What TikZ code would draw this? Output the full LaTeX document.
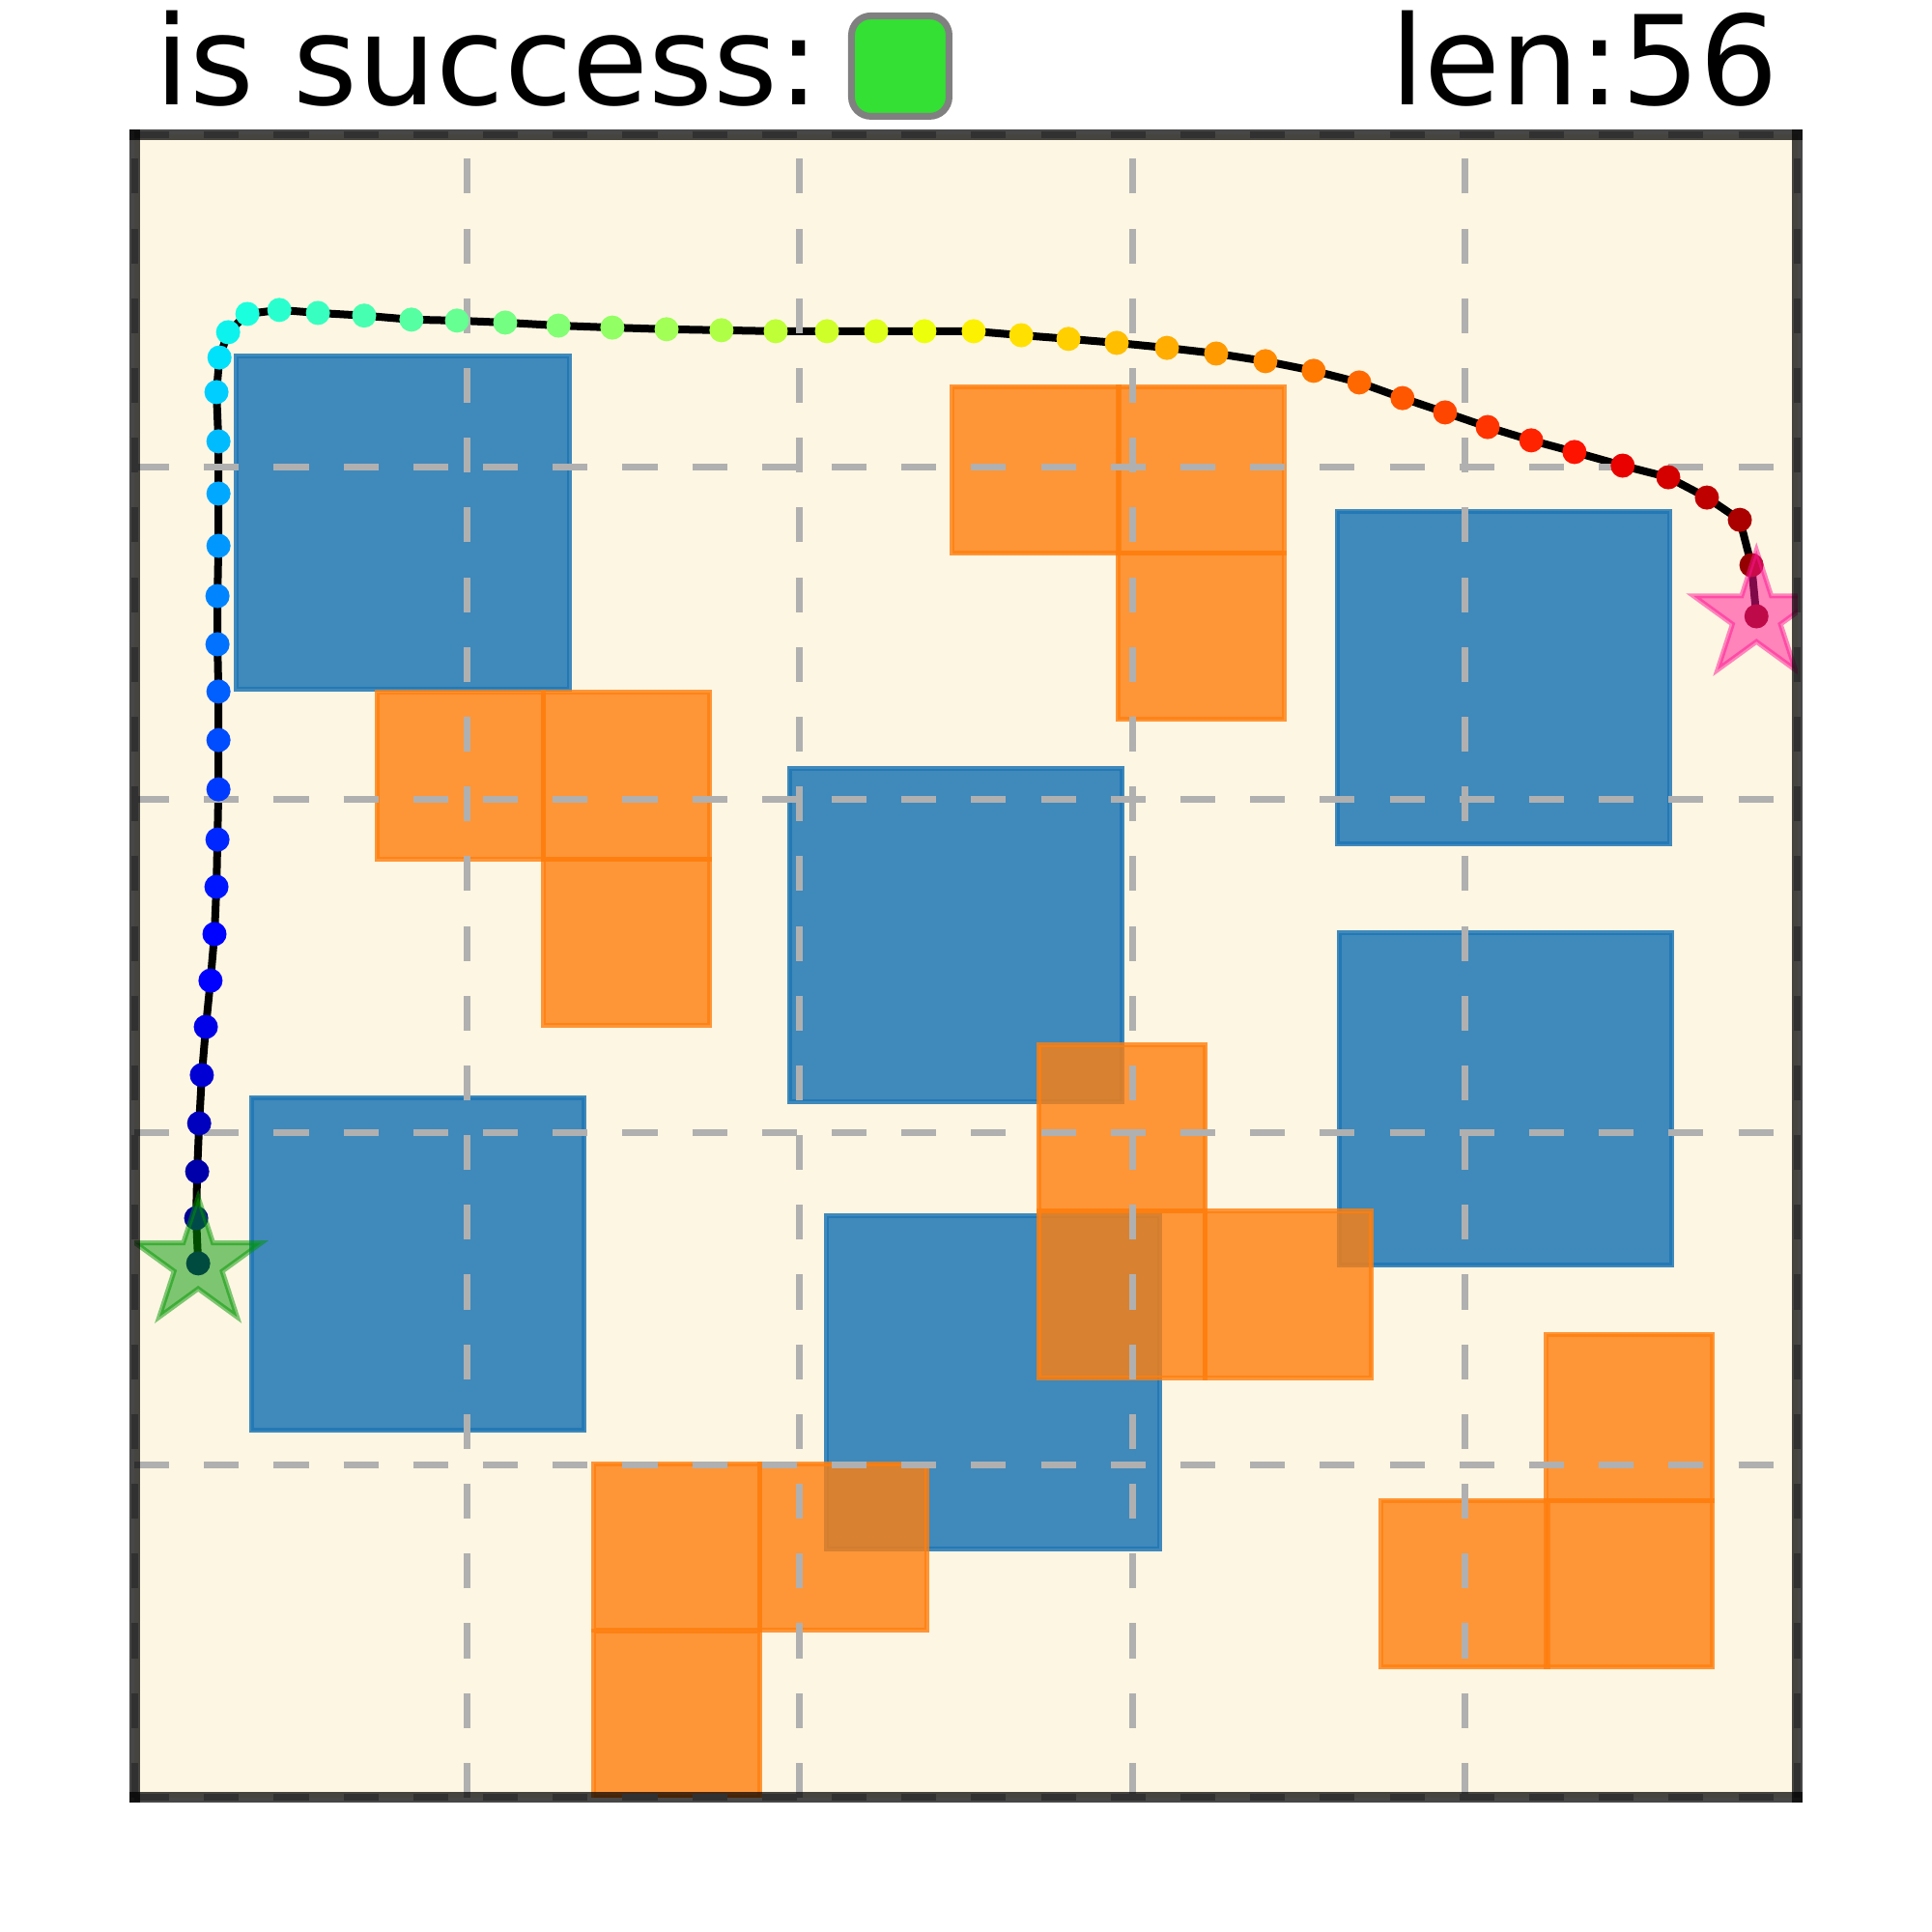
\documentclass[tikz,border=0pt]{standalone}
\usepackage{fontspec}
\setmainfont{DejaVu Sans}
\usetikzlibrary{positioning, shapes.geometric}
\definecolor{cream}{HTML}{FDF6E3}
\definecolor{wallblue}{HTML}{1F77B4}
\definecolor{pieceorange}{HTML}{FF7F0E}
\definecolor{gridgray}{HTML}{B0B0B0}
\definecolor{flaggreen}{HTML}{33E033}
\definecolor{startgreen}{RGB}{0,150,0}
\definecolor{goalpink}{HTML}{FF1493}
\tikzset{
x=3.444cm, y=3.444cm, % one grid cell
wall/.style={draw=wallblue, fill=wallblue, opacity=0.85, line width=0.05cm}, % square obstacles
piece/.style={draw=pieceorange, fill=pieceorange, opacity=0.8, line width=0.05cm}, % cells of the L pieces
gridline/.style={gridgray, line width=0.07cm, dash pattern=on 0.361cm off 0.361cm},
trajline/.style={black, line width=0.08cm, line join=round},
waypoint/.style={circle, inner sep=0pt, minimum size=0.25cm},
marker/.style={star, star points=5, star point ratio=2.618, inner sep=0pt, minimum size=1.37cm, line width=0.05cm, opacity=0.5},
spine/.style={black, opacity=0.72, line width=0.11cm, line cap=rect},
titletext/.style={font=\fontsize{36.5}{40}\selectfont, inner sep=0pt},
flagbox/.style={draw=gray, fill=flaggreen, line width=0.07cm, rounded corners=0.2cm, minimum width=1.01cm, minimum height=1.04cm, inner sep=0pt},
}

\begin{document}
\begin{tikzpicture}
\useasboundingbox (-0.4037,-0.4037) rectangle (5.4037,5.4037);
\fill[cream] (0,0) rectangle (5,5);

% obstacles
\begin{scope}
\clip (0,0) rectangle (5,5);
\foreach \x/\y in {0.307/3.333, 1.970/2.093, 3.615/2.867, 3.622/1.600, 0.352/1.104, 2.081/0.748}
  \draw[wall] (\x,\y) rectangle ++(1,1);
\foreach \x/\y in {2.459/3.741, 2.956/3.741, 2.956/3.241,
                   0.730/2.822, 1.230/2.822, 1.230/2.322,
                   2.719/1.763, 2.719/1.263, 3.219/1.263,
                   1.381/0.504, 1.881/0.504, 1.381/0.000,
                   4.244/0.893, 3.748/0.393, 4.244/0.393}
  \draw[piece] (\x,\y) rectangle ++(0.5,0.5);
\end{scope}

% path
\foreach \px/\py [count=\i] in {0.192/1.606, 0.186/1.742, 0.189/1.882, 0.195/2.027, 0.203/2.172,
    0.215/2.317, 0.229/2.456, 0.241/2.596, 0.247/2.738, 0.250/2.880, 0.253/3.031, 0.253/3.179,
    0.253/3.325, 0.250/3.467, 0.250/3.612, 0.253/3.763, 0.253/3.920, 0.253/4.077, 0.247/4.225,
    0.256/4.329, 0.282/4.405, 0.340/4.460, 0.436/4.472, 0.552/4.463, 0.691/4.455, 0.833/4.443,
    0.970/4.440, 1.115/4.434, 1.275/4.425, 1.437/4.419, 1.600/4.414, 1.765/4.411, 1.928/4.408,
    2.082/4.408, 2.230/4.408, 2.375/4.408, 2.523/4.408, 2.666/4.396, 2.808/4.385, 2.953/4.373,
    3.104/4.358, 3.252/4.341, 3.400/4.318, 3.545/4.289, 3.682/4.254, 3.812/4.207, 3.940/4.164,
    4.068/4.120, 4.199/4.080, 4.329/4.045, 4.474/4.004, 4.611/3.969, 4.727/3.908, 4.826/3.841,
    4.861/3.705, 4.876/3.551}
  \coordinate (p\i) at (\px,\py);
\draw[trajline] (p1) \foreach \i in {2,...,56} { -- (p\i) };

% grid
\foreach \g in {0,...,5} {
  \draw[gridline] (\g,0) -- (\g,5);
  \draw[gridline] (0,\g) -- (5,\g);
}

% waypoints, jet colours
\foreach \i in {1,...,56} {
  \pgfmathsetmacro\t{(\i-1)/55}
  \pgfmathsetmacro\jr{min(max(0,min(1,(\t-0.35)/0.31)),1-0.5*max(0,(\t-0.89)/0.11))}
  \pgfmathsetmacro\jg{max(0,min(1,(\t-0.125)/0.25,(0.91-\t)/0.27))}
  \pgfmathsetmacro\jb{max(0,min(1,0.5+\t/0.22,(0.65-\t)/0.31))}
  \definecolor{jet}{rgb}{\jr,\jg,\jb}
  \node[waypoint, fill=jet] (w\i) at (p\i) {};
}

% start and goal
\begin{scope}
\clip (0,0) rectangle (5,5);
\node[marker, draw=startgreen, fill=startgreen] (start) at (p1) {};
\node[marker, draw=goalpink, fill=goalpink] (goal) at (p56) {};
\end{scope}

% frame
\draw[spine] (0,0) -- (5,0);
\draw[spine] (5,0) -- (5,5);
\draw[spine] (5,5) -- (0,5);
\draw[spine] (0,5) -- (0,0);

% title
\node[titletext, anchor=base west] (success) at (0.060,5.090) {is success:};
\node[flagbox] (flag) at (2.3025,5.205) {};
\node[titletext, anchor=base east] (length) at (4.945,5.090) {len:56};
\end{tikzpicture}
\end{document}
